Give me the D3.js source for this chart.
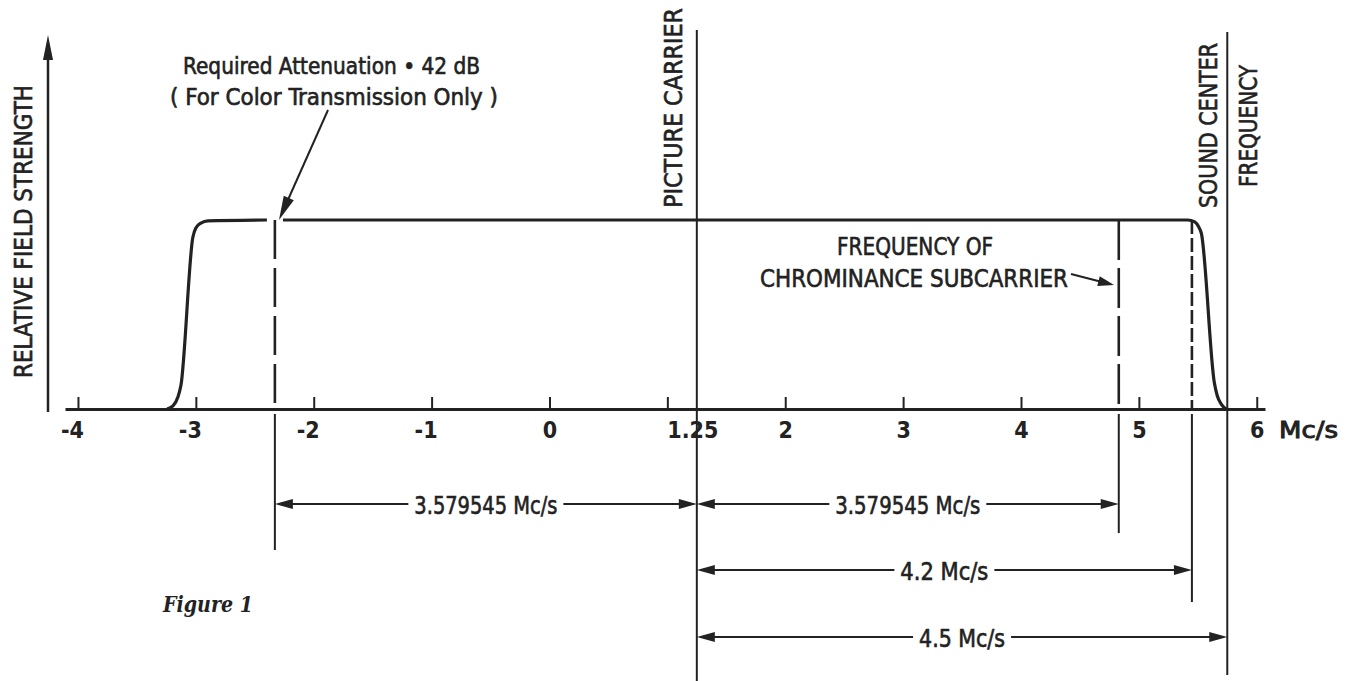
<!DOCTYPE html>
<html>
<head>
<meta charset="utf-8">
<script src="https://cdn.jsdelivr.net/npm/d3@7"></script>
<style>
  html, body { margin: 0; padding: 0; background: #fff; }
  svg { display: block; }
</style>
</head>
<body>
<script>
// ---------------- DATA ----------------
const tickValues = [-4, -3, -2, -1, 0, 1, 2, 3, 4, 5, 6];
const tickLabels = ["-4", "-3", "-2", "-1", "0", "", "2", "3", "4", "5", "6"];
const unitLabel = "Mc/s";

const pictureCarrier = 1.25;
const chromaOffset = 3.579545;
const soundCutOffset = 4.2;
const soundCarrierOffset = 4.5;

// relative field strength response (Mc/s, relative level); null = break in the trace
const curveX = [-3.245, -3.194, -3.152, -3.126, -3.025, -3.0, -2.957, -2.897, -2.397, null,
                -2.261, 5.415, 5.474, 5.508, 5.53, 5.64, 5.665, 5.70, 5.74];
const curveY = [0, 0.016, 0.063, 0.127, 0.91, 0.958, 0.984, 0.995, 1.0, null,
                1.0, 1.0, 0.99, 0.963, 0.93, 0.14, 0.07, 0.025, 0];

// dimension rows
const dimFrom = [pictureCarrier - chromaOffset, pictureCarrier, pictureCarrier, pictureCarrier];
const dimTo = [pictureCarrier, pictureCarrier + chromaOffset, pictureCarrier + soundCutOffset, pictureCarrier + soundCarrierOffset];
const dimLabels = ["3.579545 Mc/s", "3.579545 Mc/s", "4.2 Mc/s", "4.5 Mc/s"];

// ---------------- LAYOUT ----------------
const W = 1356, H = 681;
const INK = "#222";
const FONT = "'DejaVu Sans Condensed', 'DejaVu Sans', sans-serif";
const dimRowY = [504, 504, 570, 637];
const dimTextLen = [143, 145, 88, 86];

const svg = d3.select("body").append("svg").attr("width", W).attr("height", H);
svg.append("rect").attr("width", W).attr("height", H).attr("fill", "#fff");

const x = d3.scaleLinear().domain([-4.11, 6.07]).range([65, 1265]);
const y = d3.scaleLinear().domain([0, 1]).range([409, 220]);

function head(g, x1, y1, x2, y2, len, hw) {
  const a = Math.atan2(y2 - y1, x2 - x1);
  const bx = x2 - len * Math.cos(a), by = y2 - len * Math.sin(a);
  g.append("polygon")
    .attr("points", [[x2, y2], [bx - hw * Math.sin(a), by + hw * Math.cos(a)], [bx + hw * Math.sin(a), by - hw * Math.cos(a)]].map(p => p.join(",")).join(" "))
    .attr("fill", INK);
}
function txt(g, s, tx, ty, o) {
  const t = g.append("text").text(s)
    .attr("font-family", o.family || FONT)
    .attr("font-size", o.size)
    .attr("font-weight", o.weight || "normal")
    .attr("font-style", o.style || "normal")
    .attr("fill", INK)
    .attr("stroke", INK).attr("stroke-width", o.sw === undefined ? 0.6 : o.sw)
    .attr("text-anchor", o.anchor || "middle");
  if (o.rotate) t.attr("transform", `translate(${tx},${ty}) rotate(${o.rotate})`);
  else t.attr("x", tx).attr("y", ty);
  if (o.len) t.attr("textLength", o.len).attr("lengthAdjust", "spacingAndGlyphs");
  return t;
}

// ---------------- AXES ----------------
const gx = svg.append("g").attr("transform", `translate(0,${y(0)})`)
  .call(d3.axisBottom(x).tickValues(tickValues).tickFormat((d, i) => tickLabels[i])
    .tickSizeInner(-12).tickSizeOuter(0).tickPadding(0));
gx.select(".domain").attr("stroke", INK).attr("stroke-width", 3);
gx.selectAll(".tick line").attr("stroke", INK).attr("stroke-width", 2);
gx.selectAll(".tick text")
  .attr("font-family", FONT).attr("font-size", 23).attr("font-weight", "bold")
  .attr("fill", INK).attr("y", 29).attr("dy", 0)
  .attr("dx", d => d < 0 ? -6 : 0);

txt(svg, String(pictureCarrier), x(pictureCarrier) - 4, y(0) + 29, { size: 23, weight: "bold", sw: 0 });
txt(svg, unitLabel, 1279, y(0) + 29, { size: 23, anchor: "start", len: 59, sw: 0.9 });

// y axis with arrow
svg.append("line").attr("x1", 48).attr("x2", 48).attr("y1", 412).attr("y2", 45)
  .attr("stroke", INK).attr("stroke-width", 2.5);
head(svg, 48, 412, 48, 35, 25, 5);
txt(svg, "RELATIVE FIELD STRENGTH", 32, 231.5, { size: 25, rotate: -90, len: 293 });

// ---------------- MARKER LINES ----------------
const mk = svg.append("g").attr("stroke", INK).attr("fill", "none");
mk.append("line").attr("x1", x(pictureCarrier)).attr("x2", x(pictureCarrier)).attr("y1", 30).attr("y2", 681).attr("stroke-width", 2);
mk.append("line").attr("x1", x(pictureCarrier + soundCarrierOffset)).attr("x2", x(pictureCarrier + soundCarrierOffset)).attr("y1", 32).attr("y2", 675).attr("stroke-width", 2);
const dashedMarks = [
  { f: pictureCarrier - chromaOffset, dash: "39,9", bottom: 550 },
  { f: pictureCarrier + chromaOffset, dash: "40,8", bottom: 533 },
  { f: pictureCarrier + soundCutOffset, dash: "14,4", bottom: 602 }
];
dashedMarks.forEach(m => {
  mk.append("line").attr("x1", x(m.f)).attr("x2", x(m.f)).attr("y1", y(1)).attr("y2", y(0))
    .attr("stroke-width", 2.6).attr("stroke-dasharray", m.dash);
  mk.append("line").attr("x1", x(m.f)).attr("x2", x(m.f)).attr("y1", y(0) + 5).attr("y2", m.bottom)
    .attr("stroke-width", 2);
});

// ---------------- RESPONSE CURVE ----------------
const pts = curveX.map((v, i) => ({ f: v, r: curveY[i] }));
svg.append("path")
  .attr("d", d3.line().defined(d => d.r !== null).x(d => x(d.f)).y(d => y(d.r)).curve(d3.curveMonotoneX)(pts))
  .attr("fill", "none").attr("stroke", INK).attr("stroke-width", 3.2).attr("stroke-linejoin", "round");

// ---------------- LABELS ----------------
txt(svg, "PICTURE CARRIER", 682, 108, { size: 25, rotate: -90, len: 200 });
txt(svg, "SOUND CENTER", 1217, 125.5, { size: 25, rotate: -90, len: 165 });
txt(svg, "FREQUENCY", 1257, 126, { size: 25, rotate: -90, len: 122 });

txt(svg, "FREQUENCY OF", 915, 255, { size: 25, len: 156 });
txt(svg, "CHROMINANCE SUBCARRIER", 914, 287, { size: 25, len: 308 });
svg.append("line").attr("x1", 1071).attr("y1", 274).attr("x2", 1102).attr("y2", 282).attr("stroke", INK).attr("stroke-width", 2);
head(svg, 1071, 274, 1114, 285, 16, 5);

txt(svg, "Required Attenuation \u2022 42 dB", 331.5, 74, { size: 23, len: 297 });
txt(svg, "( For Color Transmission Only )", 334, 105, { size: 23, len: 328 });
svg.append("line").attr("x1", 328).attr("y1", 110).attr("x2", 287).attr("y2", 202).attr("stroke", INK).attr("stroke-width", 2);
head(svg, 328, 110, 279, 220, 24, 5.5);

// ---------------- DIMENSION ROWS ----------------
const dg = svg.append("g");
dimLabels.forEach((lab, i) => {
  const x1 = x(dimFrom[i]), x2 = x(dimTo[i]), ry = dimRowY[i];
  const mid = (x1 + x2) / 2, half = dimTextLen[i] / 2;
  dg.append("line").attr("x1", x1 + 4).attr("x2", mid - half - 6).attr("y1", ry).attr("y2", ry).attr("stroke", INK).attr("stroke-width", 2);
  dg.append("line").attr("x1", mid + half + 6).attr("x2", x2 - 4).attr("y1", ry).attr("y2", ry).attr("stroke", INK).attr("stroke-width", 2);
  head(dg, x2, ry, x1, ry, 18, 5);
  head(dg, x1, ry, x2, ry, 18, 5);
  txt(dg, lab, mid, ry + 10, { size: 25, len: dimTextLen[i] });
});

txt(svg, "Figure 1", 163, 612, { size: 22, style: "italic", weight: "bold", anchor: "start", len: 90, sw: 0,
  family: "'DejaVu Serif', 'Liberation Serif', serif" });
</script>
</body>
</html>
